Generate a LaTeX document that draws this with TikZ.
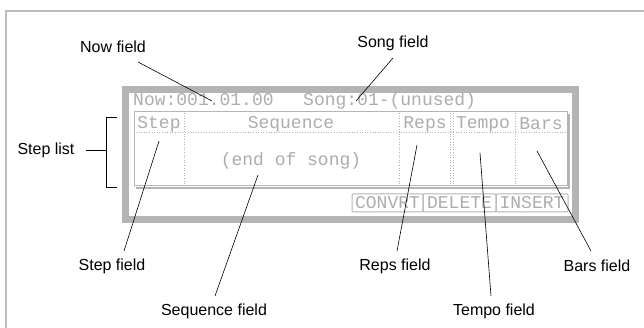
\documentclass[tikz,border=0pt]{standalone}
\usepackage{fontspec}
\setmainfont{Liberation Sans}
\newfontfamily\lcdfont{Liberation Mono}
\definecolor{framegray}{HTML}{BDBDBD}
\definecolor{lcdgray}{HTML}{B4B4B4}
\definecolor{lcdtext}{HTML}{ADADAD}
\tikzset{
  lbl/.style={font=\fontsize{16}{18}\selectfont, inner sep=1pt},
  lcd/.style={font=\lcdfont\fontsize{18}{20}\selectfont, text=lcdtext, inner sep=0pt},
  leader/.style={draw=black, line width=0.6pt},
  sep/.style={draw=lcdgray, line width=1pt, dash pattern=on 1pt off 1.6pt},
  btn/.style={draw=lcdgray, line width=1pt, rounded corners=1pt}
}
\begin{document}
\begin{tikzpicture}[x=1pt,y=-1pt]
\useasboundingbox (0,0) rectangle (644,328);
% outer frame
\draw[framegray, line width=2pt] (6,328) -- (6,11) -- (644,11);
% LCD bezel
\fill[lcdgray] (122,86) rectangle (579,223);
\fill[white] (129,93) rectangle (572,216);
% status line
\node[lcd, anchor=base west] (now) at (133,106) {Now:001.01.00};
\node[lcd, anchor=base west] (song) at (303,106) {Song:01-(unused)};
% table box with shadow
\draw[lcdgray, line width=2.2pt] (136,188) -- (569,188) -- (569,114);
\draw[lcdgray, line width=1pt] (134,112) rectangle (567,186);
\draw[sep] (136,133) -- (566,133);
\draw[sep] (184,113) -- (184,185);
\draw[sep] (399,113) -- (399,185);
\draw[sep] (450,113) -- (450,185);
\draw[sep] (453,113) -- (453,185);
\draw[sep] (515,113) -- (515,185);
\node[lcd] (hstep) at (159,124) {Step};
\node[lcd] (hseq) at (291,124) {Sequence};
\node[lcd] (hreps) at (425,124) {Reps};
\node[lcd] (htempo) at (483,124) {Tempo};
\node[lcd] (hbars) at (541,124) {Bars};
\node[lcd] (endsong) at (291,161) {(end of song)};
% buttons
\node[btn, lcd, minimum width=71pt, minimum height=18pt] (bconv) at (387.5,203) {CONVRT};
\node[btn, lcd, minimum width=73pt, minimum height=18pt] (bdel) at (459.5,203) {DELETE};
\node[btn, lcd, minimum width=72pt, minimum height=18pt] (bins) at (532,203) {INSERT};
% labels
\node[lbl] (lnow) at (113,47) {Now field};
\node[lbl] (lsong) at (393,43) {Song field};
\node[lbl] (llist) at (46,150) {Step list};
\node[lbl] (lstep) at (112,266) {Step field};
\node[lbl] (lseq) at (214,311) {Sequence field};
\node[lbl] (lreps) at (395,266) {Reps field};
\node[lbl] (ltempo) at (494,311) {Tempo field};
\node[lbl] (lbars) at (597,266) {Bars field};
% leader targets
\coordinate (tnow) at (212,101);
\coordinate (tsong) at (356,101);
\coordinate (tstep) at (159,141);
\coordinate (tseq) at (258,175);
\coordinate (treps) at (417,145);
\coordinate (ttempo) at (480,153);
\coordinate (tbars) at (537,151);
\coordinate (bt) at (106,117);
\coordinate (bb) at (106,187);
\draw[leader] (138,62) -- (tnow);
\draw[leader] (393,58) -- (tsong);
\draw[leader] (124,251) -- (tstep);
\draw[leader] (215,296) -- (tseq);
\draw[leader] (397,251) -- (treps);
\draw[leader] (491,296) -- (ttempo);
\draw[leader] (591,251) -- (tbars);
% bracket
\draw[leader, line width=0.5pt] (117,117) -- (bt) -- (bb) -- (117,187);
\draw[leader, line width=0.5pt] (llist.east) ++(10,0) -- (106,150);
\end{tikzpicture}
\end{document}
